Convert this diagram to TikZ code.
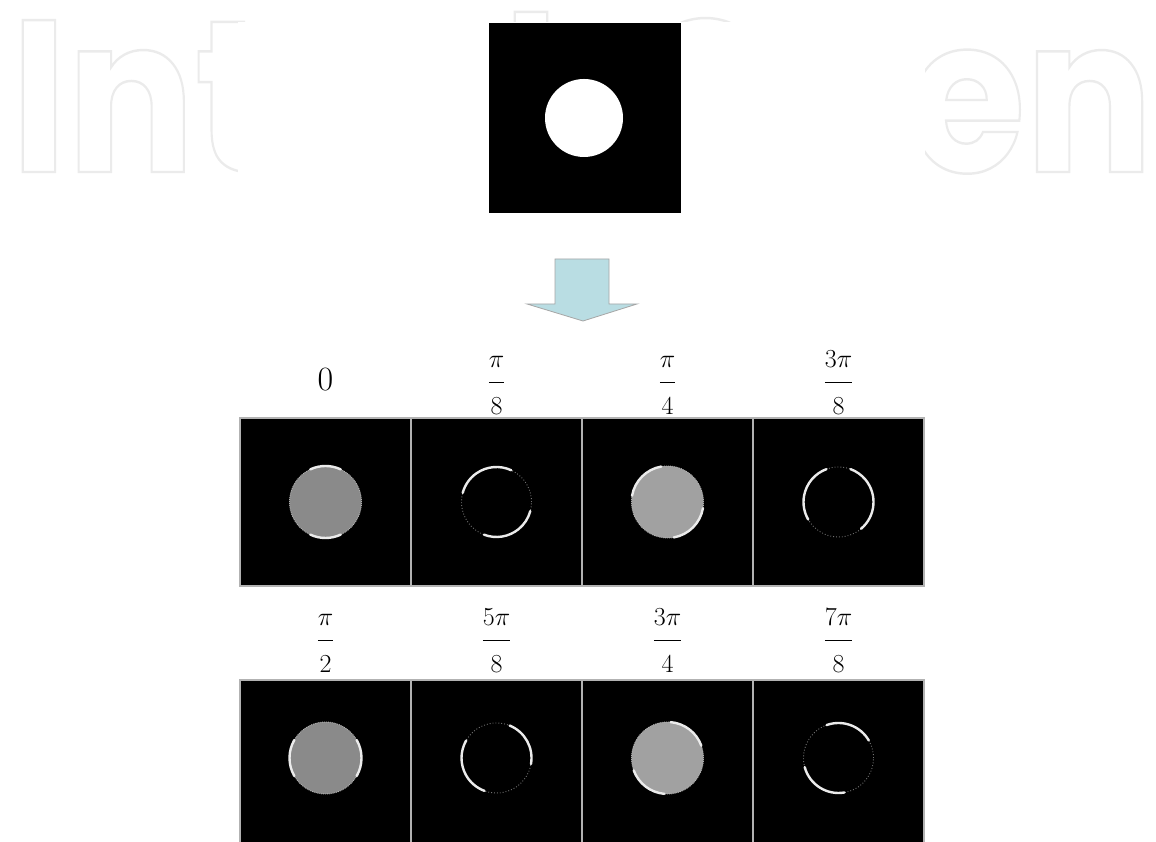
\RequirePackage{fix-cm}
\documentclass[tikz,border=0pt]{standalone}
\usepackage{fontspec}
\usepackage{tikz}
\usetikzlibrary{calc}
\newfontfamily\markfont{Poppins}
\definecolor{arrowblue}{HTML}{B9DDE3}
\definecolor{markgray}{HTML}{EBEBEB}
\DeclareMathSizes{34}{34}{26}{20}
\newcommand{\outlined}[1]{\special{pdf:literal direct 1 Tr 2.6 w}#1\special{pdf:literal direct 0 Tr 1 w}}
\newcommand{\angfrac}[2]{\displaystyle\frac{\scriptstyle #1}{\scriptstyle #2}}

\begin{document}
\begin{tikzpicture}[x=1pt, y=1pt,
    cellimg/.style={draw=gray!60, line width=1.6pt, fill=black, minimum width=171pt,
        minimum height=168pt, inner sep=0pt, outer sep=0pt},
    anglelab/.style={font=\fontsize{34}{40}\selectfont, anchor=base, inner sep=0pt},
    disk/.style={circle, minimum size=72pt, inner sep=0pt, outer sep=0pt, fill=#1,
        draw=white!70!black, densely dotted, line width=0.9pt},
    ring/.style={circle, minimum size=70pt, inner sep=0pt, outer sep=0pt,
        draw=white!45!black, dotted, line width=0.9pt},
    brightarc/.style={white!92!black, line width=2.4pt, line cap=round}
]
    \useasboundingbox (0,0) rectangle (1156,842);

    % watermark
    \node[anchor=base west, inner sep=0pt, outer sep=0pt, text=markgray] (mark) at (11,670)
        {\resizebox{1142pt}{160pt}{\markfont\bfseries\fontsize{230}{230}\selectfont\outlined{IntechOpen}}};
    \fill[white] (238,0) rectangle (925,820);

    % source image
    \node[fill=black, minimum width=192pt, minimum height=190pt, inner sep=0pt] (src) at (585,724) {};
    \node[circle, fill=white, minimum size=78pt, inner sep=0pt] (srcdisk) at (584,724) {};

    % block arrow
    \draw[fill=arrowblue, draw=gray!70, line width=0.8pt]
        (555,583) -- (609,583) -- (609,538) -- (637,538) -- (583,521) -- (527,538) -- (555,538) -- cycle;

    % result grid
    \foreach \n/\c/\r in {a/0/0, b/1/0, c/2/0, d/3/0, e/0/1, f/1/1, g/2/1, h/3/1} {
        \node[cellimg, anchor=north west] (cell\n) at ({240+171*\c},{424-262*\r}) {};
    }
    \foreach \n/\lab/\dy in {a/0/27, b/\angfrac{\pi}{8}/27, c/\angfrac{\pi}{4}/27, d/\angfrac{3\pi}{8}/27,
            e/\angfrac{\pi}{2}/31, f/\angfrac{5\pi}{8}/31, g/\angfrac{3\pi}{4}/31, h/\angfrac{7\pi}{8}/31} {
        \node[anglelab] (lab\n) at ($(cell\n.north)+(0,\dy)$) {$\lab$};
    }

    % filled disks
    \foreach \n/\shade/\a/\b/\cc/\d/\dy in {a/black!46/65/115/245/295/0, c/black!37/100/170/280/350/0,
            e/black!46/150/210/330/390/6, g/black!37/20/85/200/265/6} {
        \node[disk=\shade] (disk\n) at ($(cell\n.center)+(0,\dy)$) {};
        \draw[brightarc] (disk\n.\a) arc[start angle=\a, end angle=\b, radius=36pt];
        \draw[brightarc] (disk\n.\cc) arc[start angle=\cc, end angle=\d, radius=36pt];
    }

    % rings
    \foreach \n/\a/\b/\cc/\d/\dy in {b/65/165/249/345/0, d/110/210/310/430/0,
            f/150/250/350/428/6, h/30/110/195/280/6} {
        \node[ring] (ring\n) at ($(cell\n.center)+(0,\dy)$) {};
        \draw[brightarc] (ring\n.\a) arc[start angle=\a, end angle=\b, radius=35pt];
        \draw[brightarc] (ring\n.\cc) arc[start angle=\cc, end angle=\d, radius=35pt];
    }
\end{tikzpicture}
\end{document}
